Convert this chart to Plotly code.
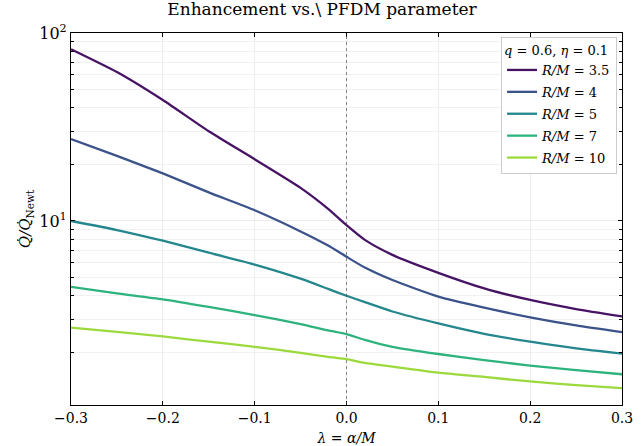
import plotly.graph_objects as go

# PFDM parameter lambda = alpha/M
lam = [-0.3, -0.25, -0.2, -0.15, -0.1, -0.05, -0.02, 0.0, 0.02, 0.05, 0.1, 0.15, 0.2, 0.25, 0.3]

# Enhancement factor Qdot/Qdot_Newt for each orbital radius R/M
radii = ["3.5", "4", "5", "7", "10"]
enh_r35 = [82, 62, 44, 30.0, 21.3, 15.0, 11.6, 9.5, 7.93, 6.6, 5.3, 4.38, 3.80, 3.40, 3.11]
enh_r4 = [27.3, 22.2, 17.9, 14.2, 11.4, 8.8, 7.4, 6.45, 5.65, 4.85, 3.96, 3.46, 3.07, 2.78, 2.56]
enh_r5 = [10.0, 8.95, 7.85, 6.78, 5.86, 4.93, 4.35, 4.0, 3.70, 3.30, 2.85, 2.51, 2.28, 2.10, 1.97]
enh_r7 = [4.46, 4.12, 3.83, 3.49, 3.16, 2.83, 2.62, 2.50, 2.33, 2.14, 1.96, 1.82, 1.70, 1.61, 1.53]
enh_r10 = [2.71, 2.57, 2.43, 2.28, 2.14, 1.99, 1.89, 1.84, 1.76, 1.68, 1.56, 1.48, 1.40, 1.34, 1.29]
series = [enh_r35, enh_r4, enh_r5, enh_r7, enh_r10]

colors = ["#471365", "#3b528b", "#24878e", "#2eb37c", "#9bd93c"]

x_ticks = [-0.3, -0.2, -0.1, 0.0, 0.1, 0.2, 0.3]
x_labels = ["\u22120.3", "\u22120.2", "\u22120.1", "0.0", "0.1", "0.2", "0.3"]
y_ticks = [10, 100]
y_labels = ["10<sup>1</sup>", "10<sup>2</sup>"]
y_minor = [2, 3, 4, 5, 6, 7, 8, 9, 20, 30, 40, 50, 60, 70, 80, 90]

font = "DejaVu Serif"

fig = go.Figure()
for r, vals, c in zip(radii, series, colors):
    fig.add_trace(go.Scatter(
        x=lam, y=vals, mode="lines",
        line=dict(color=c, width=2.3, shape="spline", smoothing=0.6),
        name=f"<i>R/M</i> = {r}", legendgroup=r,
    ))

# reference line at lambda = 0
fig.add_shape(type="line", xref="x", yref="paper", x0=0, x1=0, y0=0, y1=1,
              line=dict(color="#444444", width=0.6, dash="dot"))

fig.update_layout(
    width=644, height=446,
    margin=dict(l=71, r=22, t=33, b=41),
    paper_bgcolor="white", plot_bgcolor="white",
    font=dict(family=font, size=13, color="black"),
    title=dict(text="Enhancement vs.\\ PFDM parameter", x=0.5, xanchor="center",
               y=0.992, yanchor="top", font=dict(family=font, size=17)),
    showlegend=True,
    legend=dict(
        x=0.991, y=0.989, xanchor="right", yanchor="top",
        bgcolor="rgba(255,255,255,0.9)", bordercolor="#cccccc", borderwidth=1,
        font=dict(family=font, size=13), tracegroupgap=2,
        title=dict(text="<i>q</i> = 0.6, <i>\u03b7</i> = 0.1", side="top",
                   font=dict(family=font, size=13)),
    ),
)

fig.update_xaxes(
    range=[-0.3, 0.3], tickvals=x_ticks, ticktext=x_labels, automargin=False,
    ticks="inside", ticklen=4, tickwidth=1, tickcolor="black",
    showline=True, linecolor="black", linewidth=1.2, mirror="ticks",
    showgrid=True, gridcolor="#ececec", gridwidth=1, zeroline=False,
    tickfont=dict(family=font, size=14),
    title=dict(text="<i>\u03bb</i> = <i>\u03b1/M</i>", font=dict(family=font, size=14), standoff=12),
)
fig.update_yaxes(
    type="log", range=[0.021, 2.0], tickvals=y_ticks, ticktext=y_labels, automargin=False,
    ticks="inside", ticklen=4, tickwidth=1, tickcolor="black",
    showline=True, linecolor="black", linewidth=1.2, mirror="ticks",
    showgrid=True, gridcolor="#ececec", gridwidth=1, zeroline=False,
    tickfont=dict(family=font, size=16),
    minor=dict(tickvals=y_minor, ticks="inside", ticklen=2.5, tickcolor="black",
               showgrid=True, gridcolor="#f1f1f1", gridwidth=1),
    title=dict(text="<i>Q\u0307/Q\u0307</i><sub>Newt</sub>", font=dict(family=font, size=15), standoff=4),
)

fig.write_html("out.html")
